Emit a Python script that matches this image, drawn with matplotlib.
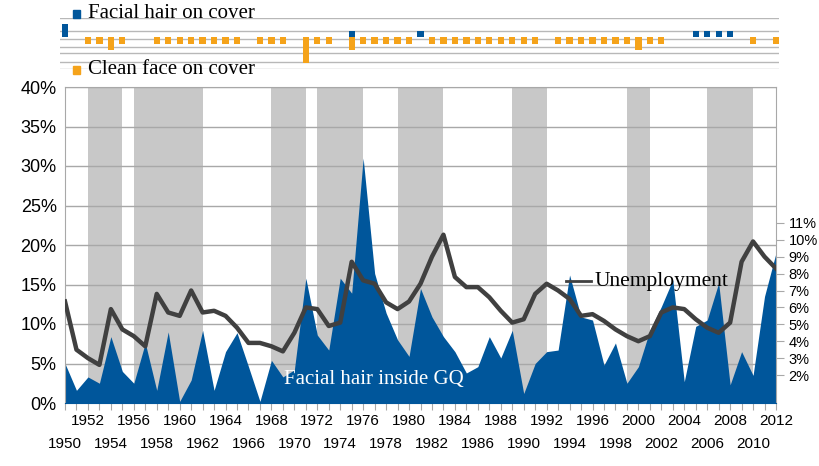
import matplotlib
matplotlib.use("Agg")
import matplotlib.pyplot as plt

years = list(range(1950, 2013))
facial_inside = [5.0, 1.6, 3.3, 2.5, 8.4, 4.0, 2.5, 7.6, 1.6, 9.0,
                 0.2, 2.9, 9.2, 1.6, 6.5, 8.9, 4.6, 0.2, 5.4, 3.3,
                 4.2, 15.8, 8.6, 6.7, 15.8, 13.9, 31.0, 16.4, 11.4, 8.0,
                 5.9, 14.5, 10.9, 8.4, 6.5, 3.8, 4.6, 8.4, 5.7, 9.2,
                 1.2, 5.0, 6.5, 6.7, 16.2, 10.9, 10.5, 4.8, 7.6, 2.5,
                 4.6, 9.2, 12.2, 15.6, 2.7, 9.7, 10.5, 15.2, 2.3, 6.5,
                 3.5, 13.5, 19.0]
unemployment = [6.35, 3.5, 3.0, 2.6, 5.9, 4.7, 4.3, 3.7, 6.8, 5.7,
                5.5, 7.0, 5.7, 5.8, 5.5, 4.8, 3.9, 3.9, 3.7, 3.4,
                4.5, 6.0, 5.9, 4.9, 5.1, 8.7, 7.6, 7.4, 6.3, 5.9,
                6.35, 7.4, 9.0, 10.3, 7.8, 7.2, 7.2, 6.6, 5.8, 5.1,
                5.3, 6.8, 7.4, 7.0, 6.5, 5.5, 5.6, 5.2, 4.7, 4.3,
                4.0, 4.3, 5.7, 6.0, 5.9, 5.3, 4.8, 4.5, 5.1, 8.7,
                9.9, 9.0, 8.3]
# cover: facial hair (blue, up) / clean face (orange, down)
cover_facial = [2, 0, 0, 0, 0, 0, 0, 0, 0, 0,
                0, 0, 0, 0, 0, 0, 0, 0, 0, 0,
                0, 0, 0, 0, 0, 1, 0, 0, 0, 0,
                0, 1, 0, 0, 0, 0, 0, 0, 0, 0,
                0, 0, 0, 0, 0, 0, 0, 0, 0, 0,
                0, 0, 0, 0, 0, 1, 1, 1, 1, 0,
                0, 0, 0]
cover_clean = [0, 0, 1, 1, 2, 1, 0, 0, 1, 1,
               1, 1, 1, 1, 1, 1, 0, 1, 1, 1,
               0, 4, 1, 1, 0, 2, 1, 1, 1, 1,
               1, 0, 1, 1, 1, 1, 1, 1, 1, 1,
               1, 1, 0, 1, 1, 1, 1, 1, 1, 1,
               2, 1, 1, 0, 0, 0, 0, 0, 0, 0,
               1, 0, 1]
recessions = [(1952, 1955), (1956, 1962), (1968, 1971), (1972, 1976),
              (1979, 1983), (1989, 1992), (1999, 2001), (2006, 2010)]

BLUE = "#00569b"
ORANGE = "#f5a31a"
SERIF = "Liberation Serif"
SANS = "Liberation Sans"

fig = plt.figure(figsize=(8.2, 4.66), dpi=100)

L, R, T, B = 65, 776, 87, 403
ax = fig.add_axes([L/820, 1-B/466, (R-L)/820, (B-T)/466])
for a, b in recessions:
    ax.axvspan(a, b, color="#c8c8c8", lw=0, zorder=0)
for v in range(5, 41, 5):
    ax.axhline(v, color="#a8a8a8", lw=1, zorder=1)
ax.fill_between(years, facial_inside, 0, color=BLUE, lw=0, zorder=2)
ax.set_xlim(1950, 2012)
ax.set_ylim(0, 40)
ax.set_yticks(range(0, 41, 5))
ax.set_yticklabels([f"{v}%" for v in range(0, 41, 5)], fontfamily=SANS, fontsize=13)
ax.tick_params(axis="y", length=0, pad=6)
ax.set_xticks(years)
ax.set_xticklabels([str(y) if y % 4 == 0 else "" for y in years], fontfamily=SANS, fontsize=11)
ax.tick_params(axis="x", length=5, color="#a8a8a8", pad=3)
for y in years:
    if y % 4 == 2:
        ax.text(y, -0.13, str(y), transform=ax.get_xaxis_transform(), ha="center", va="center",
                fontfamily=SANS, fontsize=11)
for s in ["top", "right", "left"]:
    ax.spines[s].set_color("#a8a8a8")
ax.spines["bottom"].set_color(BLUE)
ax.text(1969.1, 2.4, "Facial hair inside GQ", color="white", fontfamily=SERIF, fontsize=15, zorder=5)

ax2 = ax.twinx()
b = 2.14
a0 = -0.74
ax2.set_ylim((0 - a0)/b, (40 - a0)/b)
ax2.plot(years, unemployment, color="#404040", lw=3.2, zorder=4)
ax2.set_yticks(range(2, 12))
ax2.set_yticklabels([f"{v}%" for v in range(2, 12)], fontfamily=SANS, fontsize=10.5)
ax2.tick_params(axis="y", length=6, color="#a8a8a8", pad=3)
for s in ax2.spines.values():
    s.set_visible(False)
ax.plot([1993.7, 1995.9], [15.4, 15.4], color="#404040", lw=2, zorder=5)
ax.text(1996.2, 15.4, "Unemployment", va="center", fontfamily=SERIF, fontsize=15.5, zorder=5)

# top cover strip, aligned with main x scale
step = (R - L) / 62
sl = L - 0.45*step
sr = R + 0.3*step
axs = fig.add_axes([sl/820, 1-69/466, (sr-sl)/820, 51/466])
axs.set_xlim(1949.55, 2012.3)
axs.set_ylim(-5, 3)
for v in [3.0, 0.9, -0.3, -1.5, -2.5, -3.9, -5.0]:
    axs.axhline(v, color="#b8b8b8", lw=1, zorder=0)
axs.bar(years, cover_facial, width=0.55, color=BLUE, zorder=2)
axs.bar(years, [-c for c in cover_clean], width=0.55, color=ORANGE, zorder=2)
axs.axis("off")

fig.patches.append(plt.Rectangle((73/820, 1-18/466), 7/820, 8/466, color=BLUE, transform=fig.transFigure))
fig.text(88/820, 1-14/466, "Facial hair on cover", va="center", fontfamily=SERIF, fontsize=15)
fig.patches.append(plt.Rectangle((73/820, 1-74/466), 7/820, 8/466, color=ORANGE, transform=fig.transFigure))
fig.text(88/820, 1-69/466, "Clean face on cover", va="center", fontfamily=SERIF, fontsize=15)

fig.savefig("out.png", dpi=100)
